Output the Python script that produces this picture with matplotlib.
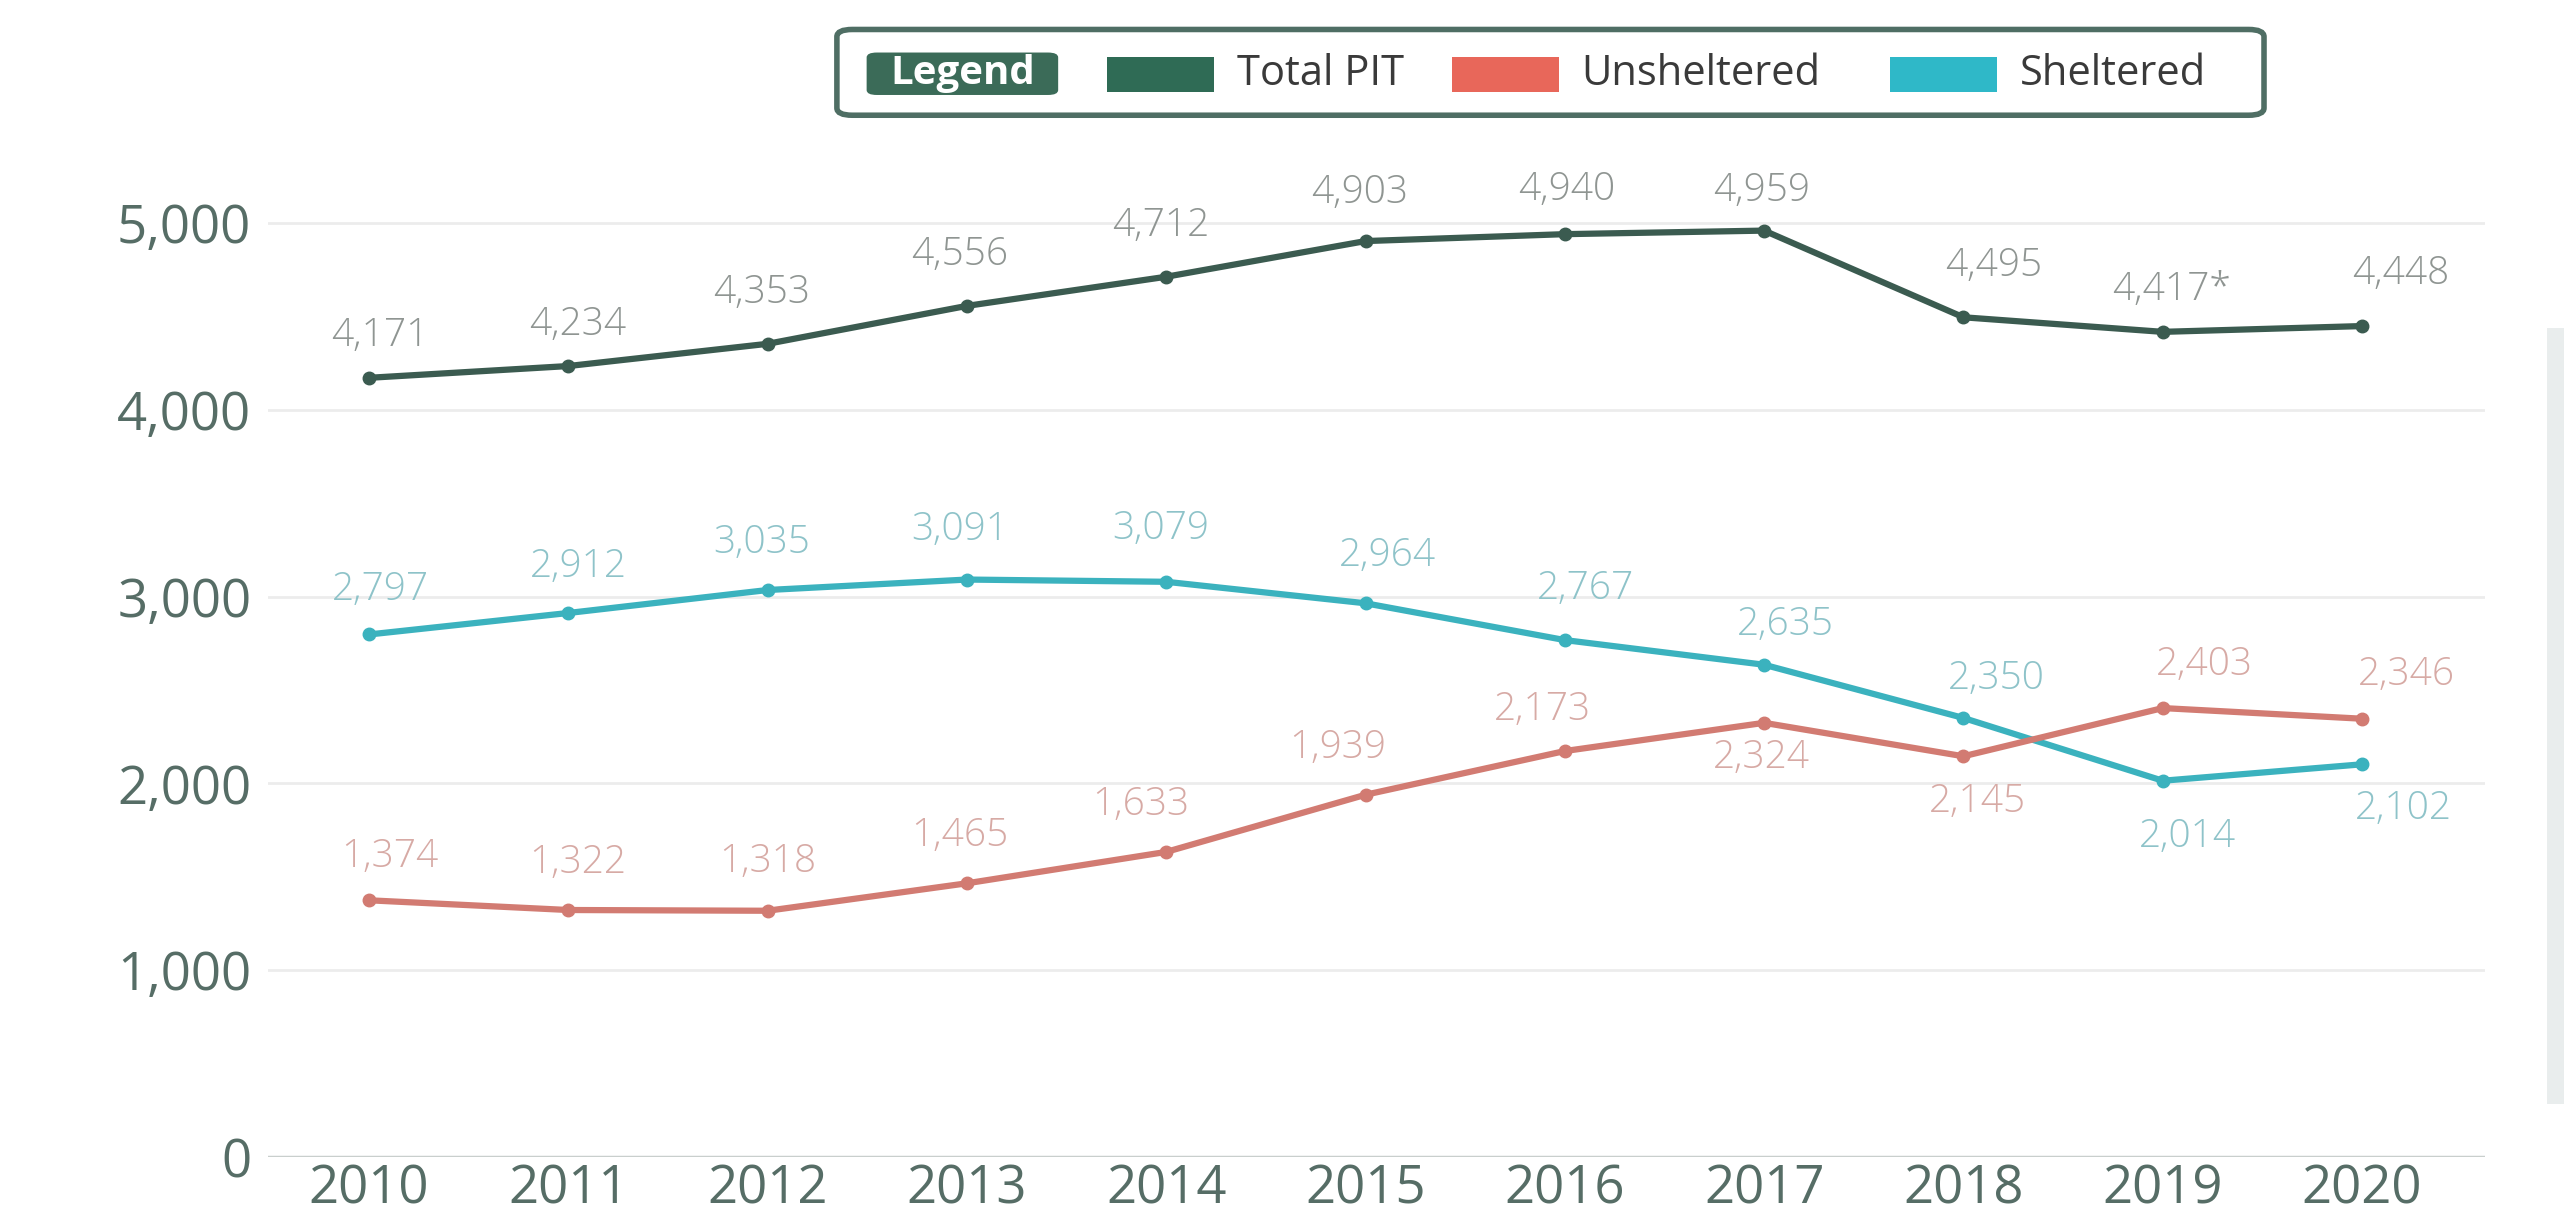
import numpy as np
import matplotlib.pyplot as plt
from matplotlib.patches import FancyBboxPatch, Rectangle

years = [2010, 2011, 2012, 2013, 2014, 2015, 2016, 2017, 2018, 2019, 2020]
total_pit = [4171, 4234, 4353, 4556, 4712, 4903, 4940, 4959, 4495, 4417, 4448]
unsheltered = [1374, 1322, 1318, 1465, 1633, 1939, 2173, 2324, 2145, 2403, 2346]
sheltered = [2797, 2912, 3035, 3091, 3079, 2964, 2767, 2635, 2350, 2014, 2102]
total_labels = [f"{v:,}" for v in total_pit]
total_labels[9] = total_labels[9] + "*"

# label offsets in points (dx, dy)
total_off = [(8, 30), (7, 30), (-4, 37), (-5, 37), (-4, 37), (-4, 35), (1, 32),
             (-2, 29), (22, 37), (6, 30), (28, 38)]
shelt_off = [(8, 32), (7, 33), (-4, 34), (-5, 36), (-4, 38), (16, 34), (15, 37),
             (15, 29), (24, 28), (18, -40), (30, -32)]
unshelt_off = [(15, 31), (7, 34), (0, 35), (-5, 34), (-18, 34), (-20, 34), (-16, 30),
               (-2, -25), (10, -33), (30, 31), (32, 32)]

c_total = "#3b5b50"
c_unshelt = "#d27b72"
c_shelt = "#3bb2be"

plt.rcParams['font.family'] = ['Open Sans', 'DejaVu Sans']

fig = plt.figure(figsize=(25.64, 12.13), dpi=100)
ax = fig.add_axes([0.1045, 0.0462, 0.8647, 0.8162])

ax.plot(years, total_pit, color=c_total, lw=4.5, marker='o', ms=9, zorder=3)
ax.plot(years, sheltered, color=c_shelt, lw=4.5, marker='o', ms=9, zorder=3)
ax.plot(years, unsheltered, color=c_unshelt, lw=4.5, marker='o', ms=9, zorder=3)

def add_labels(vals, texts, offs, color):
    for x, v, t, (dx, dy) in zip(years, vals, texts, offs):
        ax.annotate(t, (x, v), xytext=(dx, dy), textcoords='offset points',
                    ha='center', va='center', fontsize=28, fontweight='light',
                    color=color, zorder=4)

add_labels(total_pit, total_labels, total_off, "#8f9592")
add_labels(sheltered, [f"{v:,}" for v in sheltered], shelt_off, "#8ec3c9")
add_labels(unsheltered, [f"{v:,}" for v in unsheltered], unshelt_off, "#d7aaa5")

ax.set_xlim(2009.493, 2020.617)
ax.set_ylim(0, 5300)
ax.set_yticks([0, 1000, 2000, 3000, 4000, 5000])
ax.set_yticklabels(["0", "1,000", "2,000", "3,000", "4,000", "5,000"])
ax.set_xticks(years)
ax.tick_params(axis='both', length=0, labelsize=38, labelcolor="#566d66")
ax.tick_params(axis='y', pad=12)
ax.tick_params(axis='x', pad=4)
for y in [1000, 2000, 3000, 4000, 5000]:
    ax.axhline(y, color="#ececec", lw=2, zorder=1)
ax.axhline(0, color="#c9cfcd", lw=2.5, zorder=1)
for s in ax.spines.values():
    s.set_visible(False)

# legend box drawn at the top
fig.patches.append(FancyBboxPatch((0.3264, 0.905), 0.5566, 0.0707,
                                  boxstyle="round,pad=0,rounding_size=0.006",
                                  transform=fig.transFigure, fc="white",
                                  ec="#4f6e64", lw=4))
fig.patches.append(FancyBboxPatch((0.338, 0.9217), 0.0747, 0.035,
                                  boxstyle="round,pad=0,rounding_size=0.004",
                                  transform=fig.transFigure, fc="#3b6b58", ec="none"))
fig.text(0.3753, 0.939, "Legend", color="white", fontsize=29, fontweight='bold',
         ha='center', va='center')
for x0, col, txt in [(0.4318, "#2f6b55", "Total PIT"),
                     (0.5662, "#e8675a", "Unsheltered"),
                     (0.737, "#2fb8c8", "Sheltered")]:
    fig.patches.append(Rectangle((x0, 0.924), 0.0417, 0.029,
                                 transform=fig.transFigure, fc=col, ec="none"))
    fig.text(x0 + 0.0506, 0.939, txt, color="#3a3a3a", fontsize=30,
             ha='left', va='center')

# screenshot side bar
fig.patches.append(Rectangle((0.9935, 0.09), 0.0065, 0.64, transform=fig.transFigure,
                             fc="#e9eded", ec="none"))

fig.savefig("out.png", dpi=100, facecolor="white")
